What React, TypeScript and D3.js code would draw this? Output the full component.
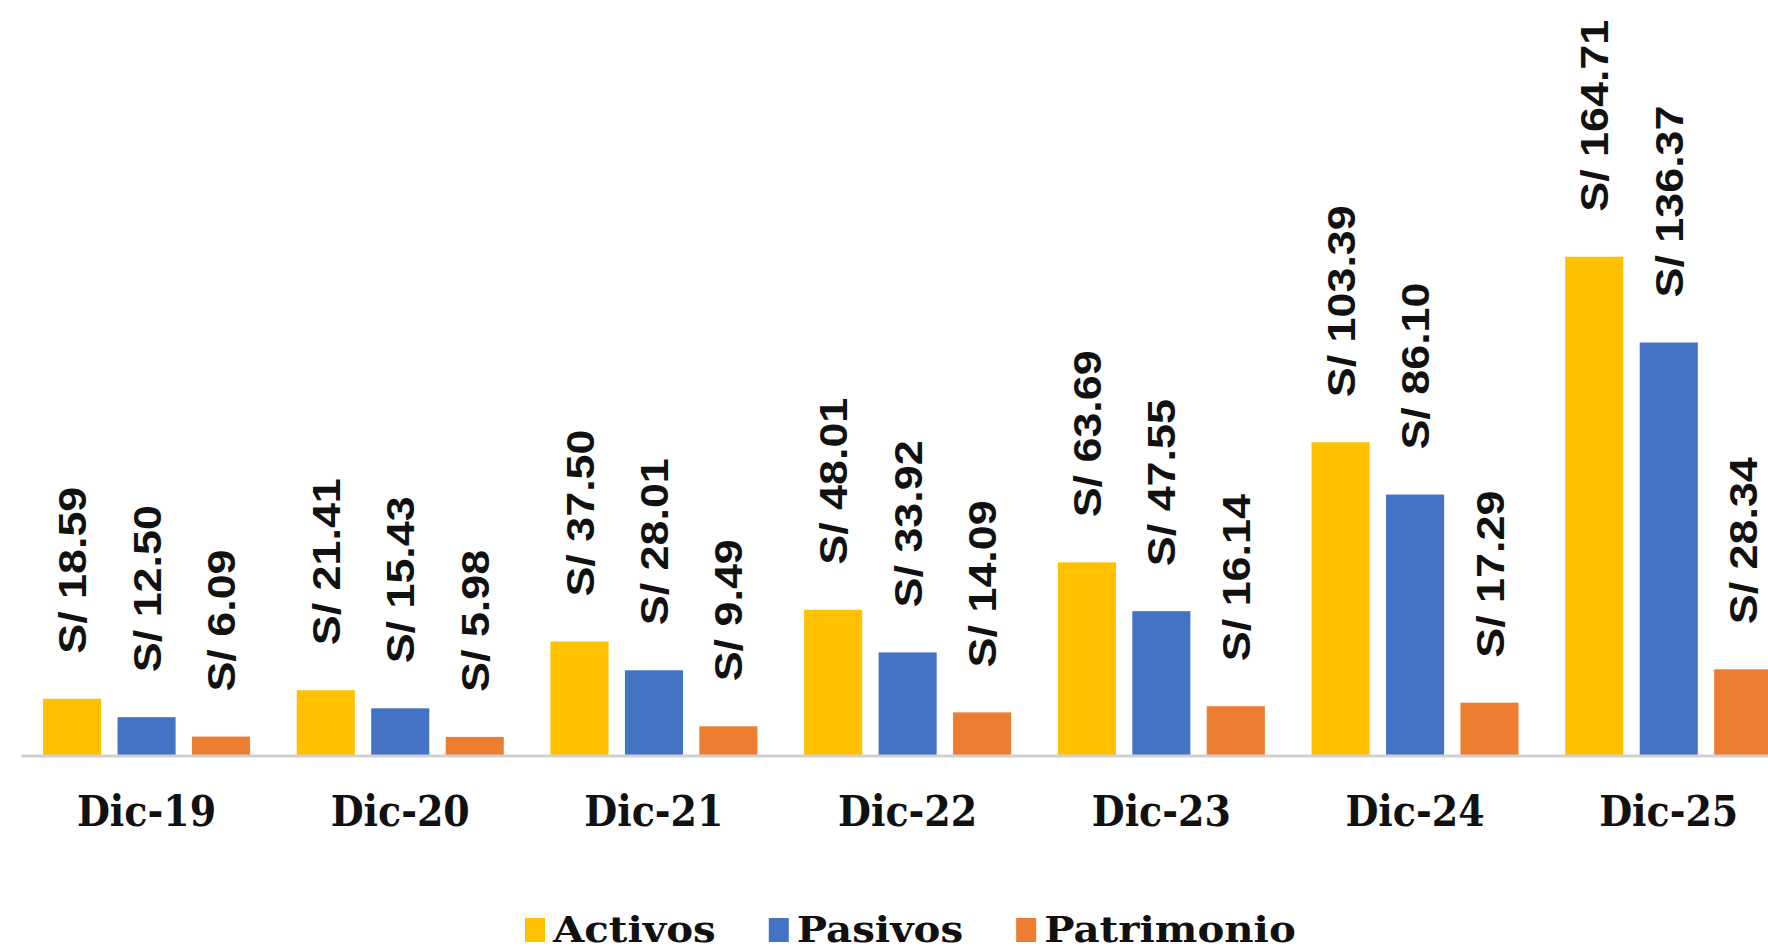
import React, { useEffect, useRef } from "react";
import * as d3 from "d3";

const categories = ["Dic-19", "Dic-20", "Dic-21", "Dic-22", "Dic-23", "Dic-24", "Dic-25"];
const seriesNames = ["Activos", "Pasivos", "Patrimonio"];
const activos = [18.59, 21.41, 37.5, 48.01, 63.69, 103.39, 164.71];
const pasivos = [12.5, 15.43, 28.01, 33.92, 47.55, 86.1, 136.37];
const patrimonio = [6.09, 5.98, 9.49, 14.09, 16.14, 17.29, 28.34];
const colors = ["#FFC000", "#4472C4", "#ED7D31"];

const W = 1768;
const H = 952;

export default function App() {
  const ref = useRef<SVGSVGElement | null>(null);

  useEffect(() => {
    const svg = d3.select(ref.current);
    svg.selectAll("*").remove();

    const values = [activos, pasivos, patrimonio];
    const baseY = 755;
    const y = d3.scaleLinear().domain([0, 180]).range([baseY, baseY - 180 * 3.025]);
    const x0 = d3.scaleBand<string>().domain(categories).range([19.65, 19.65 + 7 * 253.7]).padding(0);
    const x1 = d3.scaleBand<string>().domain(seriesNames).range([23.4, 230.4]).paddingInner(0.22).paddingOuter(0);

    const g = svg.append("g");

    // bars
    seriesNames.forEach((s, si) => {
      g.selectAll(null)
        .data(categories)
        .enter()
        .append("rect")
        .attr("x", (c) => (x0(c) as number) + (x1(s) as number))
        .attr("width", x1.bandwidth())
        .attr("y", (c, i) => y(values[si][i]))
        .attr("height", (c, i) => baseY - y(values[si][i]))
        .attr("fill", colors[si]);
    });

    // axis line
    g.append("line")
      .attr("x1", x0.range()[0] + 2)
      .attr("x2", W)
      .attr("y1", baseY + 1)
      .attr("y2", baseY + 1)
      .attr("stroke", "#D0D0D0")
      .attr("stroke-width", 3);

    // data labels
    seriesNames.forEach((s, si) => {
      g.selectAll(null)
        .data(categories)
        .enter()
        .append("text")
        .attr("transform", (c, i) => {
          const cx = (x0(c) as number) + (x1(s) as number) + x1.bandwidth() / 2;
          const ty = y(values[si][i]) - 45;
          return `translate(${cx},${ty}) rotate(-90) scale(1.15,1)`;
        })
        .attr("dy", "0.36em")
        .attr("text-anchor", "start")
        .attr("font-family", "'Liberation Sans', Arial, sans-serif")
        .attr("font-weight", "bold")
        .attr("font-size", 39)
        .attr("fill", "#111")
        .text((c, i) => `S/ ${values[si][i].toFixed(2)}`);
    });

    // category labels
    g.selectAll(null)
      .data(categories)
      .enter()
      .append("text")
      .attr("transform", (c) => `translate(${(x0(c) as number) + x0.bandwidth() / 2},826) scale(1,1.15)`)
      .attr("text-anchor", "middle")
      .attr("font-family", "'DejaVu Serif', serif")
      .attr("font-weight", "bold")
      .attr("font-size", 38)
      .attr("fill", "#111")
      .text((c) => c);

    // legend
    const leg = svg.append("g");
    let lx = 525;
    const legBase = 942;
    seriesNames.forEach((s, si) => {
      leg.append("rect")
        .attr("x", lx)
        .attr("y", legBase - 24)
        .attr("width", 20)
        .attr("height", 24)
        .attr("fill", colors[si]);
      const t = leg.append("text")
        .attr("transform", `translate(${lx + 28},${legBase}) scale(1.12,1)`)
        .attr("font-family", "'DejaVu Serif', serif")
        .attr("font-weight", "bold")
        .attr("font-size", 36)
        .attr("fill", "#111")
        .text(s);
      const len = (t.node() as SVGTextElement).getComputedTextLength() * 1.12;
      lx = lx + 28 + len + 53;
    });
  }, []);

  return (
    <svg
      ref={ref}
      width={W}
      height={H}
      style={{ position: "absolute", left: 0, top: 0, background: "#fff", display: "block" }}
    />
  );
}
